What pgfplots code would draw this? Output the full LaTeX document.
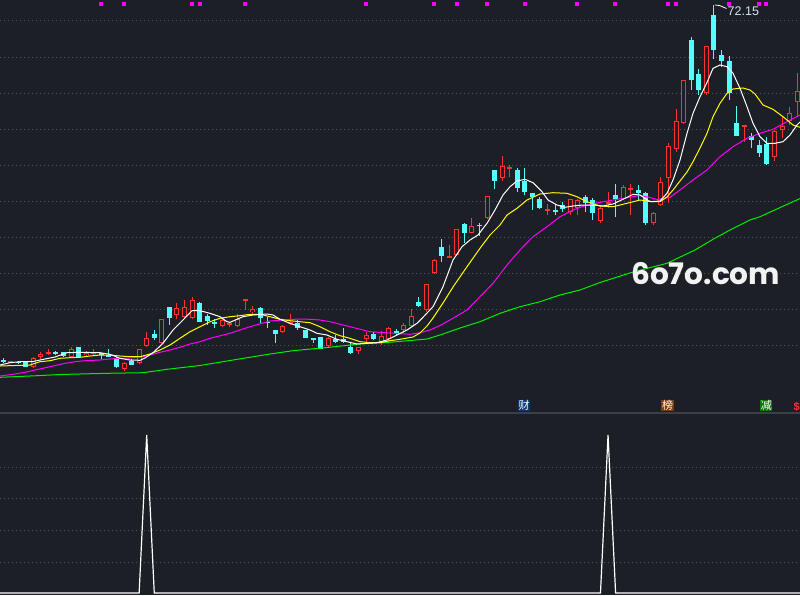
\documentclass[border=0pt]{standalone}
\usepackage{pgfplots}
\pgfplotsset{compat=1.18}
\usepackage{pgfplotstable}
\usepackage{fontspec}
\setmainfont{Liberation Sans}
\newfontfamily\cjk{Noto Sans CJK SC}
\newfontfamily\wm{Poppins}
\definecolor{bg}{RGB}{28,31,38}
\definecolor{gridc}{RGB}{78,83,94}
\definecolor{sepc}{RGB}{58,63,76}
\definecolor{cyanC}{RGB}{84,255,255}
\definecolor{redC}{RGB}{255,50,50}
\definecolor{maY}{RGB}{255,255,0}
\definecolor{maM}{RGB}{255,0,255}
\definecolor{maG}{RGB}{0,240,0}
\definecolor{boxB}{RGB}{12,58,112}
\definecolor{boxO}{RGB}{122,62,14}
\definecolor{boxG}{RGB}{10,120,12}
\definecolor{labc}{RGB}{215,228,240}

% red (rising) candles: index, body top, body bottom, wick top, wick bottom (pixel rows)
\pgfplotstableread{
i bt bb wh wl
1 361.2 362.4 361 362.6
4 358.3 367.3 356.7 368.3
5 354 356.7 352.3 359.3
6 351.7 353.3 349.3 355
9 348.7 356.7 347.3 357.3
11 352.7 355.3 351.3 356.7
12 352 353.3 349.3 355.3
16 362.7 368.7 361.7 371
18 349.3 363.3 349.3 364
19 338.3 345.7 332 346.7
21 319.3 343.3 319.3 344.3
23 308.3 315 303.3 319.3
24 307.3 316.7 300 318.3
25 300 318.3 296.7 319.3
29 320 325.7 318 326.7
30 323 325 322 327.3
31 319.3 326 314 326.7
32 299 300.3 299 310
33 309.3 312 306 315
37 326 331.7 325 332.5
38 321.7 323.3 314 325
43 337.7 345.7 337 346.5
47 347.3 350.7 346.5 354.3
48 335.3 339.3 332.3 343.3
50 336 342 331.3 345
51 328.3 339.3 327.3 340.7
53 325 330 323.3 332.7
54 316 325.7 309 326.7
56 284.3 310 284.3 311.7
57 260 272.7 259.3 274
59 256 257.3 245 257.3
60 229.3 255.3 229.3 256
62 226 233.3 218.3 233.3
64 195.7 218.3 195.7 219
66 166 178.3 156 180.7
67 167.3 169.3 165 176.7
72 209.3 210.7 204 215
75 199.3 211.7 199 215
76 200 208.3 199.3 215
79 208.3 220.7 206.7 222.7
80 201.7 203.3 191.7 208.3
82 186.7 199.3 185 200
83 188.3 190 184.3 215
86 212.5 223 212 225
87 181.7 205.3 177 206
88 146 177.7 143.3 203.3
89 121 148.5 109.3 151.7
90 80 123.3 80 124
93 46 92.7 46 95
98 125 126.7 125 141.7
102 130.7 157.3 130 160.7
103 126 130 116.7 138.3
104 113.3 121 107.3 125
105 90.7 101.7 72.7 116.7
}\tblRed

% cyan (falling) candles
\pgfplotstableread{
i bt bb wh wl
0 360 361 358 363
2 361.5 362.7 361 364
3 362 367.3 361 367.3
7 352 353.3 350.7 355
8 352 355.7 352 356.7
10 347.3 356.7 347.3 357
13 353.3 355.3 353 359.3
14 355 356.7 349.3 356.7
15 358.3 367.3 356.7 368.3
17 361 364.7 359.3 364.7
20 333.7 337.7 330 340
22 307 317.7 307 325
26 302.7 321.7 302 321.7
27 316 321 314 325
28 321.7 323.7 319.3 328.3
34 308.3 318.3 306.7 323.3
35 321.7 322.7 316.7 328.3
36 330 334.3 330 342.7
39 323.3 328.3 320 330
40 330 337.7 330 338
41 338.3 339.3 338.3 343.3
42 336.7 349.3 336.7 349.3
44 339 341.7 335 343.3
45 339 341.7 327.7 343.3
46 346.7 353.3 343.3 354.3
49 334 339.3 331.7 340
52 330.7 334 329.3 335
55 302.3 306 296.7 306.7
58 247.3 256 239.3 261.7
61 224 232.7 222.7 243.3
63 224.5 226 223.3 236
65 170 180.7 170 189.3
68 170 187.7 168.3 191.7
69 180.7 191.7 168.3 195
70 193.3 196.7 193.3 210
71 199 207.7 196.7 209.3
73 210 211.7 204.3 215
74 205 208.7 202.3 211.7
77 196.7 203.3 195 211.7
78 200 213.3 198.3 220
81 195 199.3 184.3 216.7
84 190 193.3 185 200
85 193.3 223.3 191.7 225
91 40 80 36.7 90
92 74 90 69.3 95
94 15 50 5 59.3
95 55 60.7 50 66.7
96 61 92.7 56 100
97 123.3 136 106 136
99 136 140 133.3 148
100 145 152.7 140 157.3
101 144 164 136.7 165
}\tblCyan

% moving averages (x pixel, y pixel)
\pgfplotstableread{
px y
0 365
10 362.7
20 361.7
33 361.5
45 359
55 357
62 354.5
67 352.7
80 352.3
100 352.7
110 354.3
120 358.3
130 360
140 360.3
145 358
153 352.7
163 343.3
173 330
183 320
192 310.7
200 310.7
210 313.3
220 316.7
227 321.7
230 322.3
237 319.3
243 316.7
253 315
267 314
273 315
280 319.3
290 323.3
300 326.7
310 330
317 333.3
327 335
337 339.3
347 341.7
357 344
367 343.3
377 342.7
387 340
397 335
407 330
417 323.3
423 317.3
433 306.7
443 286.7
453 260
462 246.7
470 240
478 235
487 223.3
495 210
503 195
510 186.7
517 181
525 179.3
533 182.7
542 191.7
548 200
557 205
565 207.3
573 206
583 205
593 205
603 206
613 204
623 199.3
633 194.3
640 195
650 201.7
660 201
667 193.3
673 180
680 160
687 133.3
693 113.3
700 96.7
707 82.5
713 68.3
720 65
727 66.7
733 73.3
740 88.3
747 106.7
753 123.3
760 136.7
767 143.3
775 143.3
783 141.7
790 135
797 125
800 122
}\tblMaW

\pgfplotstableread{
px y
0 366
30 365
40 361.7
50 360.7
60 358.3
70 357.7
80 357.3
90 356
100 355
110 355
120 356
130 356.7
140 356.7
150 354
160 350
170 345
180 338.3
190 331.7
200 326.7
210 321.7
220 318.3
230 316.7
240 315.7
250 314.3
260 314.3
270 316.7
280 319.3
290 320.7
300 321.7
310 322.7
320 326.7
330 331.7
340 335.7
350 338.3
360 341.7
370 342.7
380 342.7
390 340.7
400 339.3
413 337
420 333
427 326
433 318
443 303
453 287
467 266.7
480 248.3
490 235
500 225
507 215
517 208.3
527 200
540 194
553 192.7
567 193.3
577 196.7
587 201.7
600 206
613 206.7
627 203.3
640 200
653 201.7
660 201.7
667 197
673 190
680 181
687 172
693 161.7
700 148
707 133.3
713 116.7
720 103.3
727 93.3
733 89
743 88
750 90
755 94
763 105
773 109.3
783 116.7
793 125
800 127.3
}\tblMaY

\pgfplotstableread{
px y
0 376
15 374
25 372.3
35 370
50 366.7
65 363.3
75 361.7
85 360.7
100 360
110 359
130 358
143 356.7
150 355
160 352.3
170 350
180 347.3
190 344
200 341.7
210 338.3
230 333.3
250 326.7
270 321
290 319.5
300 319
310 319.3
320 320
330 321.7
350 326.7
370 331.7
390 333
410 334.3
420 332.7
430 330
440 325.5
453 318.3
467 310
480 296.7
493 283.3
507 265
520 250
533 236.7
547 226.7
560 216.7
573 210
587 205
600 202.3
613 200
627 197.7
640 195.5
650 197.5
657 199.5
670 197.3
680 190
693 180
707 170
720 156.7
733 146.7
747 138.3
760 133.3
773 129.3
787 121.7
800 115
}\tblMaM

\pgfplotstableread{
px y
0 377.3
37 375.7
60 374.5
107 373.3
143 372.7
167 369.3
200 365.5
233 360
270 354
293 350.7
327 347.5
360 344
393 342
427 339
443 334
460 328
480 321.7
500 313.3
520 306.7
540 301.7
560 295
580 290
600 282.5
633 272
667 263.3
695 250
713 239.3
730 230
750 220
760 216.7
800 198.5
}\tblMaG

% lower indicator (candle index, pixel row)
\pgfplotstableread{
i v
-1 593
18 593
19 435
20 593
79 593
80 435
81 593
106 593
}\tblSpk

\begin{document}
\begin{tikzpicture}
\begin{axis}[name=main,
  width=800pt, height=595pt, scale only axis,
  xmin=0, xmax=800, ymin=0, ymax=595, y dir=reverse,
  axis background/.style={fill=bg},
  axis line style={draw=none},
  xtick=\empty,
  ytick={20,57,93,129,165,201,237,273,309,345,467,498,530,562},
  yticklabels={}, major tick length=0pt,
  ymajorgrids,
  grid style={gridc, line width=1pt, dash pattern=on 1pt off 3pt},
  clip=true]

% separator
\addplot[sepc, line width=1.5pt, forget plot] coordinates {(0,413) (800,413)};

% wicks
\addplot[draw=none, mark=none, forget plot,
  error bars/.cd, y dir=both, y explicit, error mark=none,
  error bar style={draw=cyanC, solid, line width=1pt}]
  table[x expr=3+7.563*\thisrow{i}, y expr=(\thisrow{wh}+\thisrow{wl})/2,
        y error expr=(\thisrow{wl}-\thisrow{wh})/2] {\tblCyan};
\addplot[draw=none, mark=none, forget plot,
  error bars/.cd, y dir=both, y explicit, error mark=none,
  error bar style={draw=redC, solid, line width=1pt}]
  table[x expr=3+7.563*\thisrow{i}, y expr=(\thisrow{wh}+\thisrow{wl})/2,
        y error expr=(\thisrow{wl}-\thisrow{wh})/2] {\tblRed};
% bodies
\addplot[draw=none, mark=none, forget plot,
  error bars/.cd, y dir=both, y explicit, error mark=none,
  error bar style={draw=cyanC, solid, line width=5pt}]
  table[x expr=3+7.563*\thisrow{i}, y expr=(\thisrow{bt}+\thisrow{bb})/2,
        y error expr={max((\thisrow{bb}-\thisrow{bt})/2,0.6)}] {\tblCyan};
\addplot[draw=none, mark=none, forget plot,
  error bars/.cd, y dir=both, y explicit, error mark=none,
  error bar style={draw=redC, solid, line width=5pt}]
  table[x expr=3+7.563*\thisrow{i}, y expr=(\thisrow{bt}+\thisrow{bb})/2,
        y error expr={max((\thisrow{bb}-\thisrow{bt})/2,0.6)}] {\tblRed};
\addplot[draw=none, mark=none, forget plot,
  error bars/.cd, y dir=both, y explicit, error mark=none,
  error bar style={draw=bg, solid, line width=3pt}]
  table[x expr=3+7.563*\thisrow{i}, y expr=(\thisrow{bt}+\thisrow{bb})/2,
        y error expr={max((\thisrow{bb}-\thisrow{bt})/2-1,0)}] {\tblRed};

% moving averages
\addplot[maG, line width=1pt, forget plot] table[x=px, y=y] {\tblMaG};
\addplot[maM, line width=1pt, forget plot] table[x=px, y=y] {\tblMaM};
\addplot[maY, line width=1pt, forget plot] table[x=px, y=y] {\tblMaY};
\addplot[white, line width=1pt, forget plot] table[x=px, y=y] {\tblMaW};

% lower panel
\addplot[white, line width=1.2pt, forget plot] table[x expr=3+7.563*\thisrow{i}, y=v] {\tblSpk};

% signal squares on top
\addplot[only marks, mark=square*, mark size=1.5pt, maM, mark options={draw=none}, forget plot]
  coordinates {(100.3,3.5) (123.3,3.5) (191.3,3.5) (199.3,3.5) (244.3,3.5) (365.3,3.5)
  (433.3,3.5) (456.3,3.5) (486.3,3.5) (524.3,3.5) (576.3,3.5) (614.3,3.5) (667.3,3.5)
  (675.3,3.5) (728.3,3.5) (758.3,3.5) (765.3,3.5)};

% annotations
\draw[white, line width=0.8pt] (axis cs:715,5) -- (axis cs:719.5,5.5) -- (axis cs:726.5,8.5);
\node[anchor=west, inner sep=0pt, text=labc, font=\fontsize{12.5pt}{12.5pt}\selectfont]
  at (axis cs:727.5,11.5) {72.15};
\node[anchor=south west, inner sep=0pt, text=white!95!black]
  at (axis cs:631,285) {\resizebox{149pt}{!}{\wm\bfseries 6o7o.com}};
\node[fill=boxB, text=white, inner sep=0.6pt, font=\cjk\fontsize{11pt}{11pt}\selectfont]
  at (axis cs:524,405.5) {财};
\node[fill=boxO, text=white, inner sep=0.6pt, font=\cjk\fontsize{11pt}{11pt}\selectfont]
  at (axis cs:667.5,405.5) {榜};
\node[fill=boxG, text=white, inner sep=0.6pt, font=\cjk\fontsize{11pt}{11pt}\selectfont]
  at (axis cs:766.3,405.5) {减};
\node[anchor=east, inner sep=0pt, text=redC, font=\bfseries\fontsize{11pt}{11pt}\selectfont]
  at (axis cs:800,406.5) {\$};
\end{axis}
\pgfresetboundingbox
\useasboundingbox (main.south west) rectangle (main.north east);
\end{tikzpicture}
\end{document}
